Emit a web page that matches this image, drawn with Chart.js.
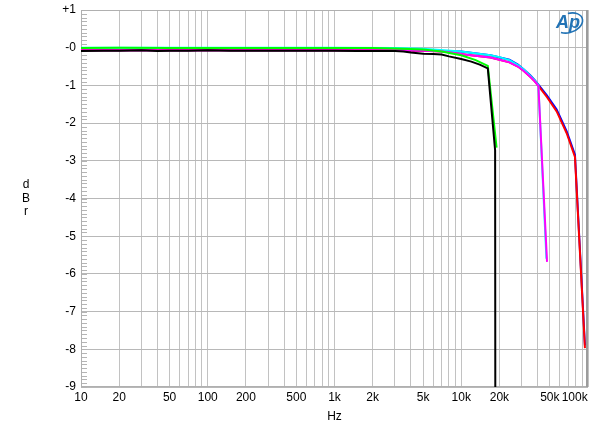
<!DOCTYPE html>
<html>
<head>
<meta charset="utf-8">
<script src="https://cdn.jsdelivr.net/npm/chart.js@4"></script>
<style>
html, body { margin: 0; padding: 0; background: #fff; }
#wrap { width: 600px; height: 434px; }
</style>
</head>
<body>
<div id="wrap"><canvas id="c"></canvas></div>
<script>
// axis ticks
const freqTicks = [10, 20, 50, 100, 200, 500, 1000, 2000, 5000, 10000, 20000, 50000, 100000];
const freqTickLabels = ['10', '20', '50', '100', '200', '500', '1k', '2k', '5k', '10k', '20k', '50k', '100k'];
const dbTicks = [1, 0, -1, -2, -3, -4, -5, -6, -7, -8, -9];
const dbTickLabels = ['+1', '-0', '-1', '-2', '-3', '-4', '-5', '-6', '-7', '-8', '-9'];

// series (Hz / dBr)
const blackF = [10, 15, 20, 30, 40, 50, 70, 100, 150, 200, 300, 500, 700, 1000, 1500, 2000, 3000, 3500, 4000, 5000, 6000, 7000, 8000, 10000, 12000, 14000, 16200, 18500, 18900];
const blackDb = [-0.09, -0.08, -0.08, -0.07, -0.09, -0.08, -0.08, -0.07, -0.08, -0.08, -0.08, -0.08, -0.08, -0.08, -0.09, -0.09, -0.09, -0.1, -0.13, -0.16, -0.17, -0.18, -0.23, -0.3, -0.37, -0.45, -0.55, -2.72, -40];

const greenF = [10, 20, 50, 100, 200, 500, 1000, 2000, 3000, 5000, 7000, 10000, 13000, 16200, 19000];
const greenDb = [-0.01, 0, -0.01, -0.01, -0.01, -0.01, -0.01, -0.01, -0.02, -0.05, -0.1, -0.2, -0.33, -0.48, -2.65];

const magentaF = [10, 100, 1000, 3000, 5000, 7200, 11000, 17000, 24000, 28000, 31000, 35000, 38000, 40600, 47500];
const magentaDb = [-0.07, -0.07, -0.07, -0.07, -0.08, -0.1, -0.19, -0.26, -0.39, -0.5, -0.61, -0.77, -0.89, -1.01, -5.68];

const cyanF = [10, 100, 1000, 3000, 5000, 10000, 17000, 20000, 24000, 28000, 31000, 35000, 38000, 40600, 47000];
const cyanDb = [0, 0, 0, -0.01, -0.03, -0.1, -0.2, -0.25, -0.33, -0.46, -0.57, -0.74, -0.87, -0.99, -5.6];

const redF = [10, 100, 1000, 3000, 5000, 7200, 11000, 17000, 24000, 28000, 31000, 35000, 38000, 40600, 47200, 56600, 67900, 78900, 94600];
const redDb = [-0.07, -0.07, -0.07, -0.07, -0.08, -0.1, -0.19, -0.26, -0.39, -0.5, -0.61, -0.77, -0.89, -1.01, -1.3, -1.69, -2.27, -2.9, -7.97];

const blueF = [10, 100, 1000, 3000, 5000, 10000, 17000, 24000, 28000, 31000, 35000, 38000, 40600, 47200, 56600, 67900, 78900, 94600];
const blueDb = [-0.07, -0.07, -0.07, -0.07, -0.08, -0.1, -0.2, -0.32, -0.45, -0.57, -0.73, -0.86, -0.98, -1.26, -1.64, -2.22, -2.84, -7.9];

const FONT = '"Liberation Sans", Arial, sans-serif';

function pts(f, d) {
    return f.map((v, i) => ({x: v, y: d[i]}));
}

function series(f, d, color) {
    return {
        data: pts(f, d),
        borderColor: color,
        backgroundColor: color,
        borderWidth: 2,
        pointRadius: 0,
        tension: 0,
        fill: false
    };
}

// vertical grid on every 1..9 x decade
const gridValues = [];
for (let e = 1; e <= 5; e++) {
    for (let m = 1; m <= 9; m++) {
        const v = m * Math.pow(10, e);
        if (v <= 100000) gridValues.push(v);
    }
}

const extras = {
    id: 'extras',
    beforeDatasetsDraw(chart) {
        const {ctx, chartArea: a, scales: {y}} = chart;
        ctx.save();
        // small dB ticks inside the left edge
        ctx.strokeStyle = '#b4b4b4';
        ctx.lineWidth = 1;
        for (let i = -90; i <= 10; i++) {
            const py = Math.round(y.getPixelForValue(i / 10)) + 0.5;
            ctx.beginPath();
            ctx.moveTo(a.left, py);
            ctx.lineTo(a.left + 6, py);
            ctx.stroke();
        }
        ctx.strokeStyle = '#b0b0b0';
        ctx.strokeRect(a.left + 0.5, a.top + 0.5, a.right - a.left - 1, a.bottom - a.top - 1);
        ctx.strokeStyle = '#9c9c9c';
        ctx.lineWidth = 2;
        ctx.beginPath();
        ctx.moveTo(a.right - 1, a.top);
        ctx.lineTo(a.right - 1, a.bottom);
        ctx.stroke();
        ctx.restore();
    },
    afterDraw(chart) {
        const {ctx, chartArea: a} = chart;
        ctx.save();
        // stacked y title
        ctx.fillStyle = '#000';
        ctx.font = '12px ' + FONT;
        ctx.textAlign = 'center';
        ctx.textBaseline = 'middle';
        ['d', 'B', 'r'].forEach((ch, i) => ctx.fillText(ch, 26, 185 + i * 13.5));
        // AP logo
        const lx = a.right - 19, ly = a.top + 13;
        ctx.fillStyle = '#2273b5';
        ctx.strokeStyle = '#2273b5';
        ctx.font = 'italic bold 18px ' + FONT;
        ctx.fillText('Ap', lx - 1, ly);
        ctx.lineWidth = 1.6;
        ctx.beginPath();
        ctx.ellipse(lx, ly, 14, 9.5, -0.35, -0.45 * Math.PI, 0.78 * Math.PI);
        ctx.stroke();
        ctx.restore();
    }
};

new Chart(document.getElementById('c'), {
    type: 'line',
    data: {
        datasets: [
            series(blackF, blackDb, '#000000'),
            series(greenF, greenDb, '#00ff00'),
            series(magentaF, magentaDb, '#ff00ff'),
            series(cyanF, cyanDb, '#00ffff'),
            series(redF, redDb, '#ff0000'),
            series(blueF, blueDb, '#0000ff')
        ]
    },
    options: {
        responsive: true,
        maintainAspectRatio: false,
        animation: false,
        layout: {padding: {left: 0, right: 12, top: 10, bottom: 0}},
        plugins: {legend: {display: false}, tooltip: {enabled: false}},
        scales: {
            x: {
                type: 'logarithmic',
                min: 10,
                max: 100000,
                afterBuildTicks: (s) => { s.ticks = gridValues.map(v => ({value: v})); },
                afterFit: (s) => { s.height = 47; s.paddingLeft = 0; s.paddingRight = 0; },
                ticks: {
                    autoSkip: false,
                    maxRotation: 0,
                    minRotation: 0,
                    padding: 3,
                    color: '#000',
                    font: {family: FONT, size: 12},
                    callback: (v) => {
                        const i = freqTicks.indexOf(v);
                        if (i < 0) return '';
                        // last label sits left of its line, as in the original
                        return i === freqTicks.length - 1 ? freqTickLabels[i] + '        ' : freqTickLabels[i];
                    }
                },
                grid: {color: '#c2c2c2', drawTicks: false},
                border: {display: false},
                title: {
                    display: true,
                    text: 'Hz',
                    color: '#000',
                    font: {family: FONT, size: 12},
                    padding: {top: 0, bottom: 10}
                }
            },
            y: {
                min: -9,
                max: 1,
                afterBuildTicks: (s) => { s.ticks = dbTicks.map(v => ({value: v})); },
                afterFit: (s) => { s.width = 81; s.paddingTop = 0; s.paddingBottom = 0; },
                ticks: {
                    padding: 5,
                    color: '#000',
                    font: {family: FONT, size: 12},
                    callback: (v) => {
                        const i = dbTicks.indexOf(v);
                        return i < 0 ? '' : dbTickLabels[i];
                    }
                },
                grid: {color: '#b8b8b8', drawTicks: false},
                border: {display: false}
            }
        }
    },
    plugins: [extras]
});
</script>
</body>
</html>
